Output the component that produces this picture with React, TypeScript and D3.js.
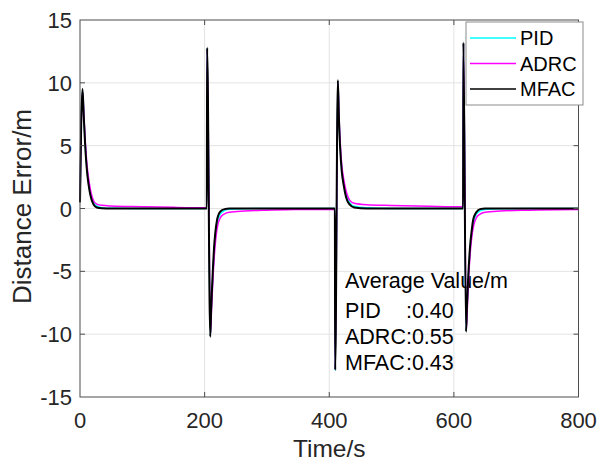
import React from "react";
import * as d3 from "d3";

// Distance error of three controllers over a run with three disturbances
const pid: [number, number][] = [
  [0, 0.5], [2, 6.8], [4, 9.4], [6, 7.5], [8, 5.5], [10, 3.9], [12, 2.8], [15, 1.7], [18, 1.0], [22, 0.45], [27, 0.18], [35, 0.07], [50, 0.02], [100, 0], [203.5, 0],
  [204, 12.75], [209.2, -10.1], [210.8, -8.0], [212.3, -6.3], [213.8, -4.8], [215.3, -3.5], [217.3, -2.3], [220, -1.2], [225, -0.45], [232, -0.15], [240, -0.06], [264, -0.02], [300, 0], [409, 0],
  [409.5, -12.9], [413.9, 10.1], [415.5, 7.4], [417.5, 5.0], [420, 3.2], [423, 2.1], [427, 1.1], [433, 0.45], [440, 0.18], [460, 0.05], [500, 0], [614.8, 0],
  [615.3, 13.15], [619.7, -9.7], [621.3, -7.7], [623.3, -5.5], [626, -3.3], [629, -1.9], [632, -1.0], [636, -0.45], [642, -0.18], [650, -0.07], [680, -0.02], [720, 0], [800, 0],
];

const adrc: [number, number][] = [
  [0, 0.5], [2, 6.6], [4, 9.3], [6, 7.7], [8, 5.7], [10, 4.2], [12, 3.1], [15, 2.0], [18, 1.2], [22, 0.6], [27, 0.35], [35, 0.25], [50, 0.2], [100, 0.14], [150, 0.09], [203.5, 0.06],
  [204, 12.7], [209.5, -9.9], [211, -8.1], [212.5, -6.5], [214, -5], [215.5, -3.8], [217.5, -2.6], [220, -1.6], [225, -0.75], [232, -0.42], [240, -0.3], [264, -0.2], [300, -0.13], [350, -0.08], [409, -0.05],
  [409.5, -12.8], [414, 10.0], [415.5, 7.6], [417.5, 5.3], [420, 3.5], [423, 2.4], [427, 1.4], [433, 0.65], [440, 0.42], [460, 0.3], [500, 0.24], [560, 0.18], [614.8, 0.14],
  [615.3, 13.1], [620, -9.6], [621.5, -8], [623, -6.2], [625, -4.4], [627, -3.1], [629.5, -2.0], [632, -1.3], [636, -0.75], [642, -0.45], [650, -0.3], [674, -0.2], [720, -0.13], [800, -0.08],
];

const mfac: [number, number][] = [
  [0, 0.5], [2, 7], [4, 9.5], [6, 7.4], [8, 5.3], [10, 3.7], [12, 2.6], [15, 1.5], [18, 0.8], [22, 0.3], [27, 0.08], [35, 0.02], [50, 0], [100, 0], [150, 0], [203.5, 0],
  [204, 12.8], [209, -10.2], [210.5, -8], [212, -6.2], [213.5, -4.6], [215, -3.2], [217, -2.0], [220, -0.9], [225, -0.25], [232, -0.05], [240, 0], [300, 0], [409, 0],
  [409.5, -12.85], [413.8, 10.2], [415.5, 7.2], [417.5, 4.8], [420, 3.0], [423, 1.9], [427, 0.9], [433, 0.3], [440, 0.08], [460, 0], [520, 0], [614.8, 0],
  [615.3, 13.2], [619.5, -9.8], [621, -7.8], [623, -5.5], [626, -3.0], [628.5, -1.8], [631, -0.9], [636, -0.3], [642, -0.05], [650, 0], [720, 0], [800, 0],
];

const seriesNames = ["PID", "ADRC", "MFAC"];
const seriesColors = ["#00ffff", "#ff00ff", "#000000"];
const seriesWidths = [1.5, 1.5, 2];
const xTicks = [0, 200, 400, 600, 800];
const yTicks = [-15, -10, -5, 0, 5, 10, 15];
const averageNames = ["PID", "ADRC", "MFAC"];
const averageValues = ["0.40", "0.55", "0.43"];

const W = 600;
const H = 463;
const FONT = "'Liberation Sans', Arial, Helvetica, sans-serif";
const NOTE_SIZE = 21.5;

export default function App() {
  const x = d3.scaleLinear().domain([0, 800]).range([80, 578.5]);
  const y = d3.scaleLinear().domain([-15, 15]).range([397, 20]);
  const line = d3
    .line<[number, number]>()
    .x((d) => x(d[0]))
    .y((d) => y(d[1]))
    .curve(d3.curveMonotoneX);
  const data = [pid, adrc, mfac];
  const [x0, x1] = x.range();
  const [y0, y1] = y.range();
  const tickColor = "#262626";
  const noteX = 345;
  // colon column lines up after the widest name ("ADRC")
  const colonX = noteX + 2.833 * NOTE_SIZE;

  return (
    <svg
      width={W}
      height={H}
      style={{ position: "absolute", left: 0, top: 0, background: "#fff" }}
      fontFamily={FONT}
    >
      <rect x={0} y={0} width={W} height={H} fill="#fff" />
      {/* grid */}
      {xTicks.slice(1, -1).map((t) => (
        <line key={"gx" + t} x1={x(t)} x2={x(t)} y1={y1} y2={y0} stroke="#e3e3e3" strokeWidth={1} />
      ))}
      {yTicks.slice(1, -1).map((t) => (
        <line key={"gy" + t} x1={x0} x2={x1} y1={y(t)} y2={y(t)} stroke="#e3e3e3" strokeWidth={1} />
      ))}

      {/* average annotation */}
      <g fontSize={NOTE_SIZE} fill="#000">
        <text x={noteX} y={288}>Average Value/m</text>
        {averageNames.map((n, i) => (
          <g key={n}>
            <text x={noteX} y={318 + i * 26}>{n}</text>
            <text x={colonX} y={318 + i * 26}>{":" + averageValues[i]}</text>
          </g>
        ))}
      </g>

      {/* series */}
      {data.map((d, i) => (
        <path
          key={seriesNames[i]}
          d={line(d) || ""}
          fill="none"
          stroke={seriesColors[i]}
          strokeWidth={seriesWidths[i]}
          strokeLinejoin="round"
        />
      ))}

      {/* axes box */}
      <rect x={x0} y={y1} width={x1 - x0} height={y0 - y1} fill="none" stroke="#4d4d4d" strokeWidth={1} />
      {xTicks.slice(1, -1).map((t) => (
        <g key={"tx" + t}>
          <line x1={x(t)} x2={x(t)} y1={y0} y2={y0 - 5} stroke="#4d4d4d" />
          <line x1={x(t)} x2={x(t)} y1={y1} y2={y1 + 5} stroke="#4d4d4d" />
        </g>
      ))}
      {yTicks.slice(1, -1).map((t) => (
        <g key={"ty" + t}>
          <line x1={x0} x2={x0 + 5} y1={y(t)} y2={y(t)} stroke="#4d4d4d" />
          <line x1={x1} x2={x1 - 5} y1={y(t)} y2={y(t)} stroke="#4d4d4d" />
        </g>
      ))}
      {xTicks.map((t) => (
        <text key={"lx" + t} x={x(t)} y={428} textAnchor="middle" fontSize={22} fill={tickColor}>
          {t}
        </text>
      ))}
      {yTicks.map((t) => (
        <text key={"ly" + t} x={72} y={y(t) + 8} textAnchor="end" fontSize={22} fill={tickColor}>
          {t}
        </text>
      ))}
      <text x={(x0 + x1) / 2} y={457} textAnchor="middle" fontSize={24.5} fill={tickColor}>
        Time/s
      </text>
      <text
        transform={`translate(31,${(y0 + y1) / 2 - 2}) rotate(-90)`}
        textAnchor="middle"
        fontSize={26}
        fill={tickColor}
      >
        Distance Error/m
      </text>

      {/* legend */}
      <rect x={466} y={22} width={117} height={83} fill="#fff" stroke="#8c8c8c" strokeWidth={1} />
      {seriesNames.map((n, i) => (
        <g key={"lg" + n}>
          <line x1={470} x2={516} y1={38 + i * 25.5} y2={38 + i * 25.5} stroke={seriesColors[i]} strokeWidth={1.5} />
          <text x={520} y={38 + i * 25.5 + 7} fontSize={20} fill="#000">
            {n}
          </text>
        </g>
      ))}
    </svg>
  );
}
